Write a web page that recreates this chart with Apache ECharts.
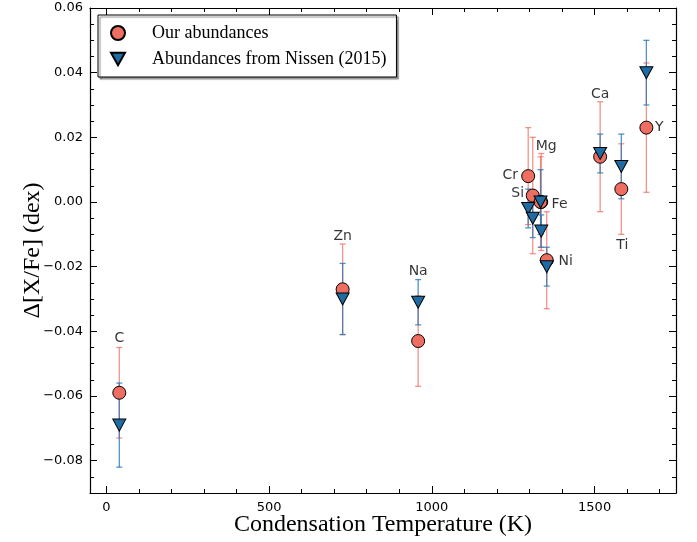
<!DOCTYPE html>
<html>
<head>
<meta charset="utf-8">
<script src="https://cdn.jsdelivr.net/npm/echarts@6/dist/echarts.min.js"></script>
<style>
  html, body { margin: 0; padding: 0; background: #fff; }
  #chart { width: 697px; height: 542px; }
</style>
</head>
<body>
<div id="chart"></div>
<script>
// element, condensation temperature (K), abundance differences (dex)
var elements = ['C', 'Zn', 'Na', 'Cr', 'Si', 'Mg', 'Fe', 'Ni', 'Ca', 'Ti', 'Y'];
var condTemp = [40, 726, 958, 1296, 1310, 1336, 1334, 1353, 1517, 1582, 1659];
var ourAbund = [-0.059, -0.027, -0.043, 0.008, 0.002, 0.000, 0.000, -0.018, 0.014, 0.004, 0.023];
var ourErr = [0.014, 0.014, 0.014, 0.015, 0.018, 0.015, 0.014, 0.015, 0.017, 0.014, 0.020];
var nissenAbund = [-0.069, -0.030, -0.031, -0.002, -0.005, -0.009, 0.000, -0.020, 0.015, 0.011, 0.040];
var nissenErr = [0.013, 0.011, 0.007, 0.006, 0.006, 0.005, 0.010, 0.006, 0.006, 0.010, 0.010];

var xMajorTicks = [0, 500, 1000, 1500];
var xMinorTicks = [0, 100, 200, 300, 400, 500, 600, 700, 800, 900, 1000, 1100, 1200, 1300, 1400, 1500, 1600, 1700];
var yMajorTicks = [-0.08, -0.06, -0.04, -0.02, 0, 0.02, 0.04, 0.06];

// label placement (pixel offsets from our points)
var labelOffset = {
    C: [0, -54], Zn: [0, -53], Na: [0, -70], Cr: [-18, -1], Si: [-15, -2],
    Mg: [5, -56], Fe: [19, 2], Ni: [19, 1], Ca: [0, -62], Ti: [1, 56], Y: [13, 0]
};

var RED = '#ef6e62';
var BLUE = '#1f6ba3';
var RED_BAR = 'rgba(240,110,98,0.75)';
var BLUE_BAR = 'rgba(40,120,185,0.8)';
var SERIF = 'Liberation Serif';

var ourPts = condTemp.map(function (t, i) { return [t, ourAbund[i]]; });
var nisPts = condTemp.map(function (t, i) { return [t, nissenAbund[i]]; });
var ourBars = condTemp.map(function (t, i) { return [t, ourAbund[i] - ourErr[i], ourAbund[i] + ourErr[i]]; });
var nisBars = condTemp.map(function (t, i) { return [t, nissenAbund[i] - nissenErr[i], nissenAbund[i] + nissenErr[i]]; });

function errorBars(color) {
    return function (params, api) {
        var x = api.value(0);
        var lo = api.coord([x, api.value(1)]);
        var hi = api.coord([x, api.value(2)]);
        var w = 3;
        var style = { stroke: color, lineWidth: 1.3 };
        return {
            type: 'group',
            children: [
                { type: 'line', shape: { x1: lo[0], y1: lo[1], x2: hi[0], y2: hi[1] }, style: style },
                { type: 'line', shape: { x1: lo[0] - w, y1: lo[1], x2: lo[0] + w, y2: lo[1] }, style: style },
                { type: 'line', shape: { x1: hi[0] - w, y1: hi[1], x2: hi[0] + w, y2: hi[1] }, style: style }
            ]
        };
    };
}

function fmtY(v) {
    var s = Math.abs(v).toFixed(2);
    return v < -1e-9 ? '\u2212' + s : s;
}

function xAx(pos, major, withLine, withLabel) {
    return {
        type: 'value', min: -50, max: 1750, position: pos,
        axisLine: { show: withLine, onZero: false, lineStyle: { color: '#000', width: 1.2 } },
        axisTick: { show: true, inside: true, length: major ? 7 : 4, customValues: major ? xMajorTicks : xMinorTicks,
            lineStyle: { color: '#000', width: 1 } },
        axisLabel: withLabel ? { show: true, customValues: xMajorTicks, margin: 8, color: '#000',
            fontFamily: 'DejaVu Sans', fontSize: 13, formatter: function (v) { return String(v); } } : { show: false },
        splitLine: { show: false }
    };
}

function yAx(pos, major, withLine, withLabel) {
    var ax = {
        type: 'value', min: -0.09, max: 0.06, position: pos,
        axisLine: { show: withLine, onZero: false, lineStyle: { color: '#000', width: 1.2 } },
        axisTick: { show: true, inside: true, length: major ? 7 : 4, lineStyle: { color: '#000', width: 1 } },
        axisLabel: withLabel ? { show: true, customValues: yMajorTicks, margin: 7, color: '#000',
            fontFamily: 'DejaVu Sans', fontSize: 13, formatter: fmtY } : { show: false },
        splitLine: { show: false }
    };
    if (major) {
        ax.axisTick.customValues = yMajorTicks;
    } else {
        ax.interval = 0.005;
    }
    return ax;
}

var xAxes = [xAx('bottom', true, true, true), xAx('bottom', false, false, false),
    xAx('top', true, true, false), xAx('top', false, false, false)];
xAxes[0].name = 'Condensation Temperature (K)';
xAxes[0].nameLocation = 'middle';
xAxes[0].nameGap = 20;
xAxes[0].nameMoveOverlap = false;
xAxes[0].nameTextStyle = { fontFamily: SERIF, fontSize: 24, color: '#000' };

var yAxes = [yAx('left', true, true, true), yAx('left', false, false, false),
    yAx('right', true, true, false), yAx('right', false, false, false)];
yAxes[0].name = '\u0394[X/Fe] (dex)';
yAxes[0].nameLocation = 'middle';
yAxes[0].nameGap = 45;
yAxes[0].nameMoveOverlap = false;
yAxes[0].nameTextStyle = { fontFamily: SERIF, fontSize: 24, color: '#000' };

var chart = echarts.init(document.getElementById('chart'));
chart.setOption({
    animation: false,
    backgroundColor: '#fff',
    grid: { left: 90, right: 21, top: 8, bottom: 49, containLabel: false, outerBoundsMode: 'none' },
    xAxis: xAxes,
    yAxis: yAxes,
    legend: {
        orient: 'vertical',
        left: 98, top: 15,
        padding: [9, 10, 9, 12],
        itemGap: 8,
        itemWidth: 14, itemHeight: 14,
        selectedMode: false,
        backgroundColor: '#fff',
        borderColor: '#000', borderWidth: 1,
        shadowColor: 'rgba(0,0,0,0.45)', shadowOffsetX: 2, shadowOffsetY: 2, shadowBlur: 1,
        textStyle: { fontFamily: SERIF, fontSize: 18, color: '#000', padding: [0, 0, 0, 22] },
        data: [
            { name: 'Our abundances', icon: 'circle' },
            { name: 'Abundances from Nissen (2015)', icon: 'path://M0,0 L2,0 L1,1.8 Z' }
        ]
    },
    series: [
        {
            type: 'custom', name: 'ourErr', renderItem: errorBars(RED_BAR),
            data: ourBars, encode: { x: 0, y: [1, 2] }, z: 1, silent: true
        },
        {
            type: 'custom', name: 'nisErr', renderItem: errorBars(BLUE_BAR),
            data: nisBars, encode: { x: 0, y: [1, 2] }, z: 2, silent: true
        },
        {
            type: 'scatter', name: 'Our abundances', data: ourPts,
            symbol: 'circle', symbolSize: 13, z: 3,
            itemStyle: { color: RED, borderColor: '#000', borderWidth: 1, opacity: 1 }
        },
        {
            type: 'scatter', name: 'Abundances from Nissen (2015)', data: nisPts,
            symbol: 'path://M0,0 L2,0 L1,1.8 Z', symbolSize: [13, 12], z: 4,
            itemStyle: { color: BLUE, borderColor: '#000', borderWidth: 1, opacity: 1 }
        },
        {
            type: 'scatter', name: 'labels', z: 5, symbolSize: 0, silent: true,
            data: ourPts.map(function (p, i) {
                return {
                    value: p, name: elements[i],
                    label: { offset: labelOffset[elements[i]] }
                };
            }),
            label: {
                show: true, position: 'inside', formatter: '{b}',
                fontFamily: 'DejaVu Sans', fontSize: 14, color: '#000',
                textBorderWidth: 0
            }
        }
    ]
});
</script>
</body>
</html>
